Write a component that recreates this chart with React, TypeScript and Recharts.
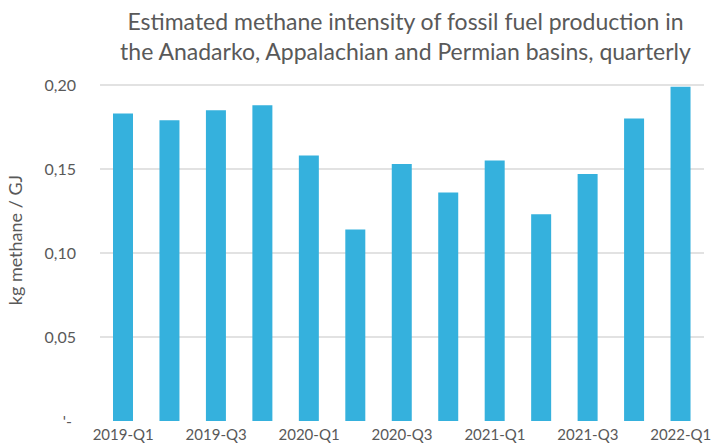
import React from "react";
import { BarChart, Bar, XAxis, YAxis, CartesianGrid } from "recharts";

const QUARTERS = [
  "2019-Q1", "2019-Q2", "2019-Q3", "2019-Q4",
  "2020-Q1", "2020-Q2", "2020-Q3", "2020-Q4",
  "2021-Q1", "2021-Q2", "2021-Q3", "2021-Q4",
  "2022-Q1",
];
const INTENSITY = [
  0.183, 0.179, 0.185, 0.188,
  0.158, 0.114, 0.153, 0.136,
  0.155, 0.123, 0.147, 0.180,
  0.199,
];
const Y_TICKS = [0, 0.05, 0.1, 0.15, 0.2];
const TITLE_LINES = [
  "Estimated methane intensity of fossil fuel production in",
  "the Anadarko, Appalachian and Permian basins, quarterly",
];

const FONT = "Lato, 'Open Sans', sans-serif";
const TEXT = "#595959";

const data = QUARTERS.map((q, i) => ({ quarter: q, value: INTENSITY[i] }));

const fmtY = (v: number) =>
  v === 0 ? "'-\u00a0" : v.toFixed(2).replace(".", ",");

export default function App() {
  return (
    <div
      style={{
        position: "fixed",
        left: 0,
        top: 0,
        width: 711,
        height: 443,
        background: "#fff",
        fontFamily: FONT,
        overflow: "hidden",
      }}
    >
      <div
        style={{
          position: "absolute",
          left: 100,
          width: 611,
          top: 6,
          textAlign: "center",
          color: TEXT,
          fontSize: 23,
          lineHeight: "30px",
        }}
      >
        {TITLE_LINES.map((l) => (
          <div key={l}>{l}</div>
        ))}
      </div>
      <div
        style={{
          position: "absolute",
          left: 15,
          top: 240,
          transform: "translate(-50%, -50%) rotate(-90deg)",
          whiteSpace: "nowrap",
          color: TEXT,
          fontSize: 18,
        }}
      >
        kg methane / GJ
      </div>
      <BarChart
        width={711}
        height={443}
        data={data}
        margin={{ top: 85, right: 7, left: 0, bottom: 0 }}
      >
        <CartesianGrid
          vertical={false}
          stroke="#d9d9d9"
          strokeWidth={1.5}
          horizontalValues={[0.05, 0.1, 0.15, 0.2]}
        />
        <XAxis
          dataKey="quarter"
          interval={1}
          axisLine={false}
          tickLine={false}
          height={22}
          tick={{ fill: TEXT, fontSize: 15, fontFamily: FONT }}
        />
        <YAxis
          domain={[0, 0.2]}
          ticks={Y_TICKS}
          width={100}
          axisLine={false}
          tickLine={false}
          tickMargin={18}
          tickFormatter={fmtY}
          tick={{ fill: TEXT, fontSize: 16, fontFamily: FONT }}
        />
        <Bar
          dataKey="value"
          fill="#35b1dd"
          barSize={20}
          isAnimationActive={false}
        />
      </BarChart>
    </div>
  );
}
